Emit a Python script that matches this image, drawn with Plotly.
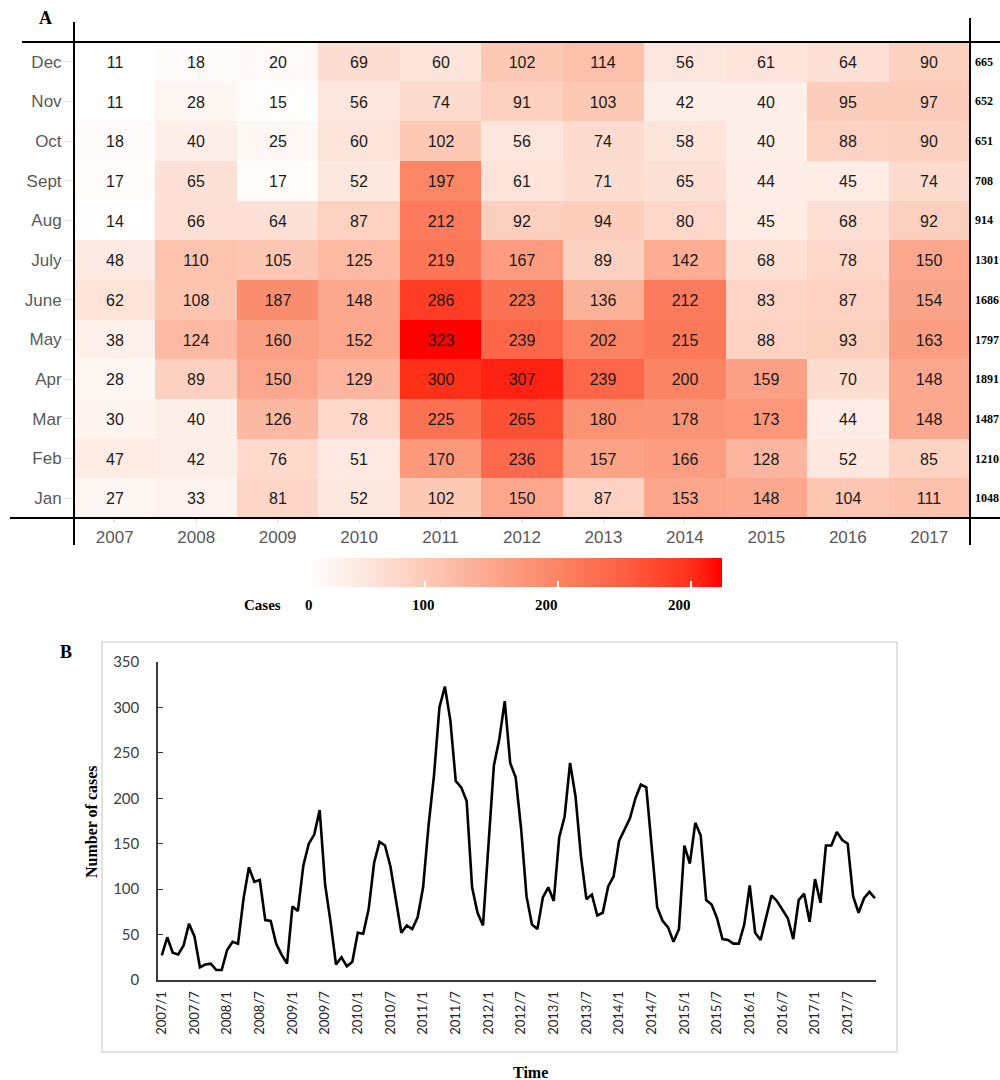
import plotly.graph_objects as go

years = [2007, 2008, 2009, 2010, 2011, 2012, 2013, 2014, 2015, 2016, 2017]
months = ["Jan", "Feb", "Mar", "Apr", "May", "June", "July", "Aug", "Sept", "Oct", "Nov", "Dec"]

# cases[month][year]
jan = [27, 33, 81, 52, 102, 150, 87, 153, 148, 104, 111]
feb = [47, 42, 76, 51, 170, 236, 157, 166, 128, 52, 85]
mar = [30, 40, 126, 78, 225, 265, 180, 178, 173, 44, 148]
apr = [28, 89, 150, 129, 300, 307, 239, 200, 159, 70, 148]
may = [38, 124, 160, 152, 323, 239, 202, 215, 88, 93, 163]
jun = [62, 108, 187, 148, 286, 223, 136, 212, 83, 87, 154]
jul = [48, 110, 105, 125, 219, 167, 89, 142, 68, 78, 150]
aug = [14, 66, 64, 87, 212, 92, 94, 80, 45, 68, 92]
sep = [17, 65, 17, 52, 197, 61, 71, 65, 44, 45, 74]
oct_ = [18, 40, 25, 60, 102, 56, 74, 58, 40, 88, 90]
nov = [11, 28, 15, 56, 74, 91, 103, 42, 40, 95, 97]
dec = [11, 18, 20, 69, 60, 102, 114, 56, 61, 64, 90]
z = [jan, feb, mar, apr, may, jun, jul, aug, sep, oct_, nov, dec]

# row totals as printed at the right of panel A (Jan..Dec)
totals = [1048, 1210, 1487, 1891, 1797, 1686, 1301, 914, 708, 651, 652, 665]

cbar_labels = ["0", "100", "200", "200"]

# monthly series for panel B
ts_labels = [f"{y}/{m}" for y in years for m in range(1, 13)]
ts_values = [z[m][yi] for yi in range(len(years)) for m in range(12)]
ts_ticks = ts_labels[::6]

W, H = 1000, 1080
def px(x): return x / W
def py(y): return 1 - y / H

zmin, zmax = 11, 323
def nz(v): return (v - zmin) / (zmax - zmin)
cscale = [
    [0.0, "#ffffff"],
    [nz(60), "#fde4da"],
    [nz(100), "#fdcab7"],
    [nz(150), "#fca78d"],
    [nz(200), "#fb8464"],
    [nz(250), "#fe5e42"],
    [nz(300), "#ff3018"],
    [1.0, "#ff0000"],
]

fig = go.Figure()
fig.add_trace(go.Heatmap(
    z=z, x=[str(y) for y in years], y=months,
    zmin=zmin, zmax=zmax, colorscale=cscale,
    texttemplate="%{z}", textfont=dict(family="Liberation Sans", size=16, color="#1a1a1a"),
    xgap=0, ygap=0, hoverinfo="skip",
    colorbar=dict(orientation="h", x=px(306), xanchor="left", lenmode="fraction",
                  len=(722 - 306) / W, thickness=29, y=py(593), yanchor="bottom",
                  xpad=0, ypad=0, outlinewidth=0, showticklabels=False,
                  tickvals=[100, 200, 300], ticks="inside", tickcolor="white", ticklen=6, tickwidth=2),
    xaxis="x", yaxis="y",
))
fig.add_trace(go.Scatter(
    x=ts_labels, y=ts_values, mode="lines",
    line=dict(color="black", width=2.6), xaxis="x2", yaxis="y2", showlegend=False, hoverinfo="skip",
))

axfont = dict(family="Liberation Sans", size=17, color="#595959")
fig.update_layout(
    width=W, height=H, margin=dict(l=0, r=0, t=0, b=0, pad=0, autoexpand=False),
    paper_bgcolor="white", plot_bgcolor="white", showlegend=False,
    xaxis=dict(domain=[px(74), px(970)], anchor="y", type="category", showgrid=False, zeroline=False,
               automargin=False, tickfont=axfont, ticks="outside", ticklen=4, tickcolor="#e0e0e0"),
    yaxis=dict(domain=[py(518), py(42)], anchor="x", type="category", showgrid=False, zeroline=False,
               automargin=False, tickfont=axfont, ticks="outside", ticklen=8, tickcolor="#e0e0e0"),
    xaxis2=dict(domain=[px(158), px(876)], anchor="y2", type="category", range=[-0.7, 131.2],
                automargin=False, tickvals=ts_ticks, ticktext=ts_ticks, tickangle=-90, showgrid=False,
                zeroline=False, tickfont=dict(family="Lato", size=13, color="#262626"), ticks="",
                ticklabelstandoff=4,
                showline=True, linecolor="#3a3a3a", linewidth=2),
    yaxis2=dict(domain=[py(980), py(662)], anchor="x2", range=[0, 350], dtick=50, showgrid=False,
                automargin=False, zeroline=False, tickfont=dict(family="Lato", size=15, color="#404040"),
                ticks="inside", ticklen=5, tickcolor="#3a3a3a", showline=True, linecolor="#3a3a3a",
                linewidth=1.5, ticklabelstandoff=14),
)

shapes = []
def line(x0, y0, x1, y1, color="black", width=2):
    shapes.append(dict(type="line", xref="paper", yref="paper", x0=px(x0), y0=py(y0), x1=px(x1), y1=py(y1),
                       line=dict(color=color, width=width)))
line(22, 42, 1000, 42)
line(10, 518, 1000, 518)
line(74, 22, 74, 545)
line(970, 18, 970, 545)
shapes.append(dict(type="rect", xref="paper", yref="paper", x0=px(102), y0=py(1052), x1=px(897), y1=py(642),
                   line=dict(color="#d9d9d9", width=1.5), fillcolor="rgba(0,0,0,0)", layer="below"))
fig.update_layout(shapes=shapes)

ann = []
serif_b = lambda s: dict(family="Liberation Serif", size=s, color="black")
def note(text, x, y, size, **kw):
    d = dict(text=text, x=px(x), y=py(y), xref="paper", yref="paper", showarrow=False,
             xanchor="center", yanchor="middle", font=serif_b(size))
    d.update(kw)
    ann.append(d)

note("<b>A</b>", 45, 18, 18)
note("<b>B</b>", 66, 652, 18)
for m, t in zip(months, totals):
    ann.append(dict(text=f"<b>{t}</b>", x=px(973), y=m, xref="paper", yref="y", xanchor="left",
                    yanchor="middle", showarrow=False, font=serif_b(12)))
note("<b>Cases</b>", 262, 605, 15)
for lab, xx in zip(cbar_labels, [309, 423, 546, 679]):
    note(f"<b>{lab}</b>", xx, 605, 15)
note("<b>Number of cases</b>", 91, 822, 16, textangle=-90)
note("<b>Time</b>", 530, 1072, 16)
fig.update_layout(annotations=ann)

fig.write_html("out.html", config={"displayModeBar": False},
               post_script="document.body.style.margin='0';document.body.style.overflow='hidden';")
